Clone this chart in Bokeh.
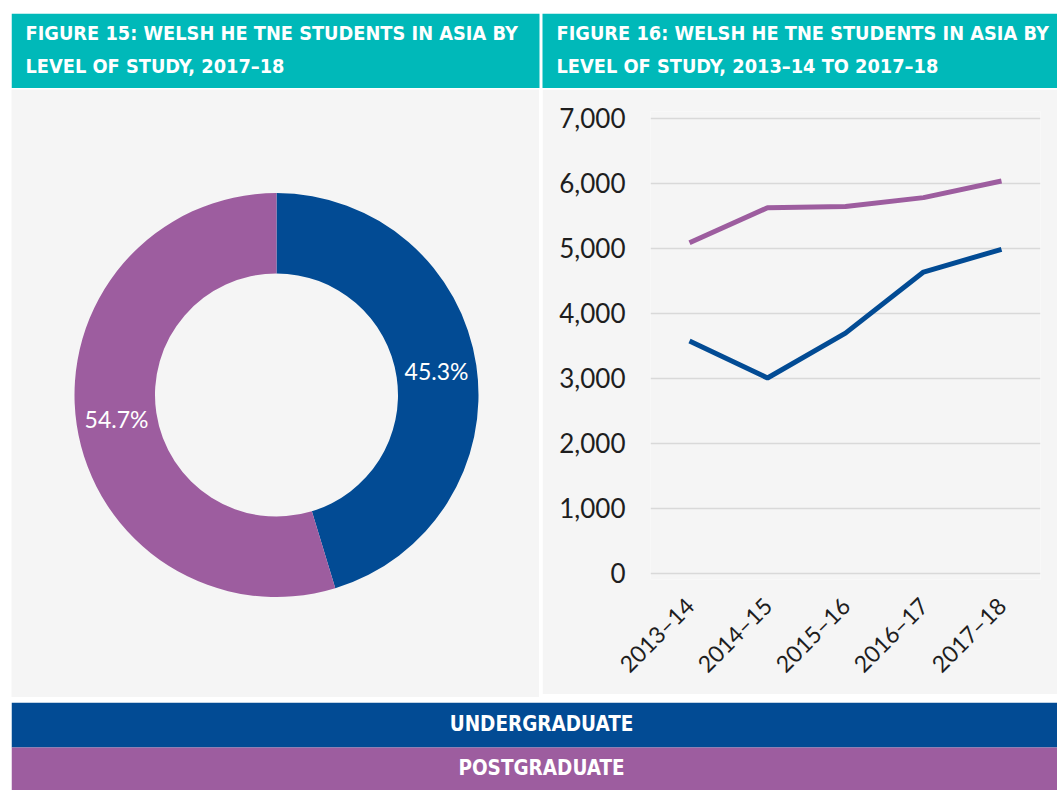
import math
import numpy as np
from bokeh.plotting import figure
from bokeh.layouts import row, column, Spacer
from bokeh.models import Range1d, FactorRange, NumeralTickFormatter, FixedTicker
from bokeh.core.properties import value
from bokeh.embed import file_html
from bokeh.resources import INLINE

# ---------------- data ----------------
level_labels = ["UNDERGRADUATE", "POSTGRADUATE"]
share_2017_18 = [45.3, 54.7]
years = ["2013–14", "2014–15", "2015–16", "2016–17", "2017–18"]
undergraduate = [3570, 3000, 3690, 4630, 4980]
postgraduate = [5080, 5620, 5640, 5775, 6030]
y_ticks = [0, 1000, 2000, 3000, 4000, 5000, 6000, 7000]

title_left = ["FIGURE 15: WELSH HE TNE STUDENTS IN ASIA BY", "LEVEL OF STUDY, 2017–18"]
title_right = ["FIGURE 16: WELSH HE TNE STUDENTS IN ASIA BY", "LEVEL OF STUDY, 2013–14 TO 2017–18"]

# ---------------- style ----------------
BLUE = "#024b94"
PURPLE = "#9d5d9f"
TEAL = "#00b9b9"
PANEL = "#f5f5f5"
GRID = "#d9d9d9"
HEAD_FONT = "DejaVu Sans Condensed, Lato"
BODY_FONT = "Lato"
colors = [BLUE, PURPLE]

W_LEFT, W_RIGHT, GAP = 528, 515, 3


def blank(w, h, fill, flip=True):
    p = figure(width=w, height=h, x_range=Range1d(0, w),
               y_range=Range1d(h, 0) if flip else Range1d(0, h),
               toolbar_location=None, output_backend="svg", min_border=0,
               x_axis_location=None, y_axis_location=None)
    p.background_fill_color = fill
    p.border_fill_color = fill
    p.outline_line_color = None
    p.xgrid.visible = False
    p.ygrid.visible = False
    return p


# ---------------- headers (one strip, two panels) ----------------
hdr = blank(W_LEFT + GAP + W_RIGHT, 75, "white")
hdr.quad(left=[0, W_LEFT + GAP], right=[W_LEFT, W_LEFT + GAP + W_RIGHT],
         top=0, bottom=75, fill_color=TEAL, line_color=None)
hx = [14, 14, W_LEFT + GAP + 14, W_LEFT + GAP + 14]
hy = [20, 53, 20, 53]
hdr.text(x=hx, y=hy, text=title_left + title_right, text_font=value(HEAD_FONT),
         text_font_style="bold", text_font_size="19.8px", text_color="white",
         text_baseline="middle", text_align="left")

# ---------------- donut ----------------
donut = blank(W_LEFT, 608, PANEL, flip=False)
cx, cy = 265, 302.5
r_in, r_out = 121.5, 202
frac = np.array(share_2017_18) / sum(share_2017_18)
cum_after = np.cumsum(frac)
cum_before = cum_after - frac
start = math.pi / 2 - 2 * math.pi * cum_after
end = math.pi / 2 - 2 * math.pi * cum_before
donut.annular_wedge(x=cx, y=cy, inner_radius=r_in, outer_radius=r_out,
                    start_angle=list(start), end_angle=list(end),
                    fill_color=colors, line_color=None)
mid = (start + end) / 2
r_mid = (r_in + r_out) / 2
donut.text(x=list(cx + r_mid * np.cos(mid)), y=list(cy + r_mid * np.sin(mid)),
           text=[f"{s:.1f}%" for s in share_2017_18], text_font=value(BODY_FONT),
           text_font_size="23px", text_color="white",
           text_align="center", text_baseline="middle")

# ---------------- line chart ----------------
lc = figure(width=W_RIGHT, height=605, x_range=FactorRange(*years),
            y_range=Range1d(-100, 7100), toolbar_location=None,
            output_backend="svg", min_border_left=108, min_border_right=17,
            min_border_top=22, min_border_bottom=115)
lc.background_fill_color = PANEL
lc.border_fill_color = PANEL
lc.outline_line_color = None
lc.xgrid.visible = False
lc.ygrid.grid_line_color = GRID
lc.ygrid.grid_line_width = 1.5
lc.line(years, postgraduate, line_color=PURPLE, line_width=5)
lc.line(years, undergraduate, line_color=BLUE, line_width=5)

lc.yaxis.ticker = FixedTicker(ticks=y_ticks)
lc.yaxis.formatter = NumeralTickFormatter(format="0,0")
for ax in (lc.xaxis[0], lc.yaxis[0]):
    ax.axis_line_color = None
    ax.major_tick_line_color = None
    ax.minor_tick_line_color = None
    ax.major_tick_out = 0
    ax.major_tick_in = 0
    ax.minor_tick_out = 0
    ax.major_label_text_font = BODY_FONT
    ax.major_label_text_color = "#1e1e1e"
lc.yaxis.major_label_text_font_size = "26px"
lc.yaxis.major_label_standoff = 25
lc.xaxis.major_label_text_font_size = "23px"
lc.xaxis.major_label_orientation = math.pi / 4
lc.xaxis.major_label_standoff = 22

# ---------------- legend bars ----------------
leg = blank(1046, 88, "white")
leg.quad(left=0, right=1046, top=[0, 45], bottom=[45, 88], fill_color=colors, line_color=None)
leg.text(x=[530, 530], y=[21.5, 65], text=level_labels, text_font=value(HEAD_FONT),
         text_font_style="bold", text_font_size="20.5px", text_color="white",
         text_align="center", text_baseline="middle")

layout = column(
    Spacer(height=13, width=1057),
    row(Spacer(width=11, height=75), hdr),
    Spacer(height=1, width=1057),
    row(Spacer(width=11, height=608), column(donut),
        Spacer(width=GAP, height=608), column(lc)),
    Spacer(height=5, width=1057),
    row(Spacer(width=11, height=88), leg),
)

open("out.html", "w").write(file_html(layout, INLINE, title="Welsh HE TNE students in Asia"))
